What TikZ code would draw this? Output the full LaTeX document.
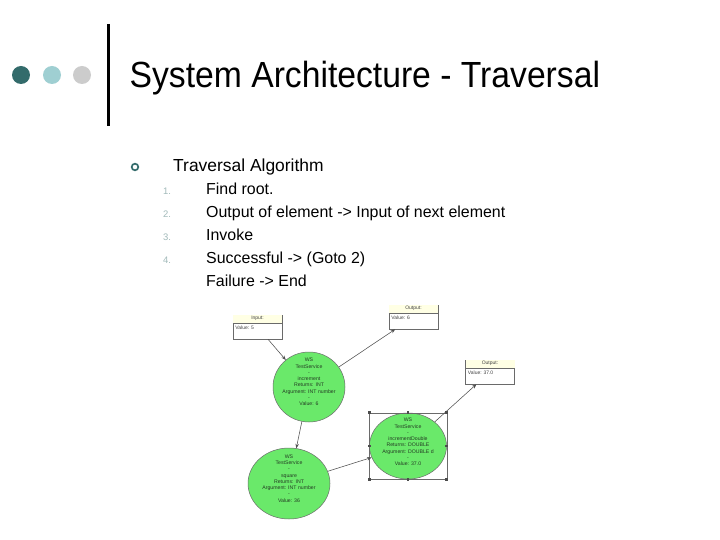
\documentclass[tikz,border=0pt]{standalone}
\usepackage{fontspec}
\setmainfont{Liberation Sans}
\usetikzlibrary{shapes.geometric,arrows.meta}
\definecolor{darkteal}{HTML}{336B6B}
\definecolor{lightteal}{HTML}{9FCFD2}
\definecolor{lightgrey}{HTML}{CCCCCC}
\definecolor{numgrey}{HTML}{A2BABA}
\definecolor{wsgreen}{HTML}{6AE96A}
\definecolor{wsink}{HTML}{243C24}
\definecolor{hdryellow}{HTML}{FFFFE4}
\definecolor{edgegrey}{HTML}{6A6A6A}
\definecolor{linegrey}{HTML}{505050}
\tikzset{
  dot/.style={circle, inner sep=0pt, minimum size=18bp},
  titletext/.style={anchor=base west, inner sep=0pt, font=\fontsize{33.8}{40}\selectfont},
  headtext/.style={anchor=base west, inner sep=0pt, font=\fontsize{17.5}{21}\selectfont},
  itemtext/.style={anchor=base west, inner sep=0pt, font=\fontsize{16}{19}\selectfont},
  numtext/.style={anchor=base west, inner sep=0pt, text=numgrey, font=\fontsize{9.5}{11}\selectfont},
  ws/.style={ellipse, draw=edgegrey, line width=0.5bp, fill=wsgreen, inner sep=0pt},
  wstext/.style={align=center, inner sep=0pt, text=wsink, font=\fontsize{5.2}{6.3}\selectfont},
  iobox/.style={rectangle, draw=edgegrey, line width=0.5bp, fill=white, inner sep=0pt, minimum width=49bp, minimum height=24bp},
  boxhdr/.style={inner sep=0pt, text=black!75, font=\fontsize{5}{6}\selectfont},
  boxval/.style={anchor=west, inner sep=0pt, text=black!75, font=\fontsize{5}{6}\selectfont},
  conn/.style={draw=linegrey, line width=0.55bp, -{Stealth[length=4.5bp,width=3.5bp]}},
  handle/.style={rectangle, fill=black!70, inner sep=0pt, minimum size=2.6bp},
}
\begin{document}
\begin{tikzpicture}[x=1bp,y=-1bp]
\useasboundingbox (0,0) rectangle (720,540);
\fill[white] (0,0) rectangle (720,540);

% header decoration
\node[dot, fill=darkteal] (d1) at (21,75) {};
\node[dot, fill=lightteal] (d2) at (52,75) {};
\node[dot, fill=lightgrey] (d3) at (82,75) {};
\draw[line width=2.6bp] (108.5,24) -- (108.5,126);
\node[titletext] (title) at (129.5,88) {\scalebox{1}[1.08]{System Architecture - Traversal}};

% bullet list
\draw[darkteal, line width=1.7bp] (135,167) circle (3.3bp);
\node[headtext] (head) at (173,172) {Traversal Algorithm};
\node[numtext] (n1) at (163,194.5) {1.};
\node[itemtext] (i1) at (206,194.5) {Find root.};
\node[numtext] (n2) at (163,217.6) {2.};
\node[itemtext] (i2) at (206,217.6) {Output of element -> Input of next element};
\node[numtext] (n3) at (163,240.7) {3.};
\node[itemtext] (i3) at (206,240.7) {Invoke};
\node[numtext] (n4) at (163,263.8) {4.};
\node[itemtext] (i4) at (206,263.8) {Successful -> (Goto 2)};
\node[itemtext] (i5) at (206,286.9) {Failure -> End};

% input / output boxes
\node[iobox] (in) at (257.5,327) {};
\fill[hdryellow] ([xshift=0.25bp,yshift=-0.25bp]in.north west) rectangle ([xshift=-0.25bp,yshift=-8bp]in.north east);
\draw[edgegrey, line width=0.5bp] ([yshift=-8bp]in.north west) -- ([yshift=-8bp]in.north east);
\node[boxhdr] (inh) at ([yshift=-4bp]in.north) {Input:};
\node[boxval] (inv) at ([xshift=2.5bp,yshift=-12.5bp]in.north west) {Value: 5};

\node[iobox] (o1) at (413.5,317) {};
\fill[hdryellow] ([xshift=0.25bp,yshift=-0.25bp]o1.north west) rectangle ([xshift=-0.25bp,yshift=-8bp]o1.north east);
\draw[edgegrey, line width=0.5bp] ([yshift=-8bp]o1.north west) -- ([yshift=-8bp]o1.north east);
\node[boxhdr] (o1h) at ([yshift=-4bp]o1.north) {Output:};
\node[boxval] (o1v) at ([xshift=2.5bp,yshift=-12.5bp]o1.north west) {Value: 6};

\node[iobox] (o2) at (490,372) {};
\fill[hdryellow] ([xshift=0.25bp,yshift=-0.25bp]o2.north west) rectangle ([xshift=-0.25bp,yshift=-8bp]o2.north east);
\draw[edgegrey, line width=0.5bp] ([yshift=-8bp]o2.north west) -- ([yshift=-8bp]o2.north east);
\node[boxhdr] (o2h) at ([yshift=-4bp]o2.north) {Output:};
\node[boxval] (o2v) at ([xshift=2.5bp,yshift=-12.5bp]o2.north west) {Value: 37.0};

% web service ellipses
\node[ws, minimum width=72bp, minimum height=70bp] (e1) at (309,387) {};
\node[wstext] (e1t) at ([yshift=5bp]e1.center) {WS\\TestService\\-\\increment\\Returns: INT\\Argument: INT number\\-\\Value: 6};

\node[ws, minimum width=82bp, minimum height=71bp] (e2) at (289,483.5) {};
\node[wstext] (e2t) at ([yshift=5bp]e2.center) {WS\\TestService\\-\\square\\Returns: INT\\Argument: INT number\\-\\Value: 36};

\node[ws, minimum width=77bp, minimum height=66bp] (e3) at (408,446) {};
\node[wstext] (e3t) at ([yshift=4bp]e3.center) {WS\\TestService\\-\\incrementDouble\\Returns: DOUBLE\\Argument: DOUBLE d\\-\\Value: 37.0};

% selection frame with handles
\draw[edgegrey, line width=0.5bp] (e3.west |- e3.north) rectangle (e3.east |- e3.south);
\foreach \p in {e3.west |- e3.north, e3.north, e3.east |- e3.north, e3.east, e3.east |- e3.south, e3.south, e3.west |- e3.south, e3.west}
  \node[handle] at (\p) {};

% connectors
\draw[conn] (in) -- (e1);
\draw[conn] (e1) -- (o1);
\draw[conn] (e1) -- (e2);
\draw[conn] (e2) -- (e3);
\draw[conn] (e3) -- (o2);
\end{tikzpicture}
\end{document}
